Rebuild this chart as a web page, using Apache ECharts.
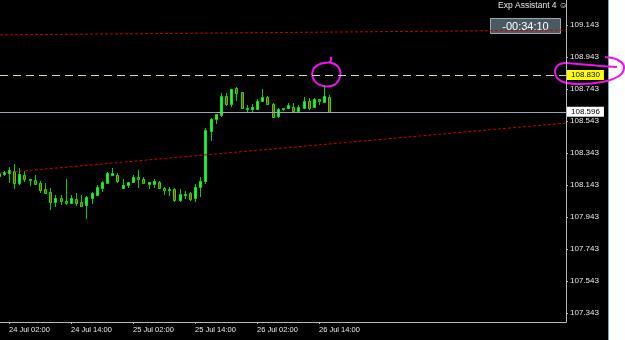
<!DOCTYPE html>
<html>
<head>
<meta charset="utf-8">
<title>USDJPY H1</title>
<script src="https://cdn.jsdelivr.net/npm/echarts@6.0.0/dist/echarts.min.js"></script>
<style>
  html, body { margin: 0; padding: 0; background: #000; }
  #main-chart { width: 625px; height: 340px; }
</style>
</head>
<body>
<div id="main-chart"></div>
<script>
// hourly candles, index = hours since 24 Jul 00:00
var openPrices = [108.202, 108.212, 108.216, 108.232, 108.157, 108.205, 108.174, 108.172, 108.155, 108.116,
    108.099, 108.035, 108.062, 108.045, 108.028, 108.057, 108.038, 108.018, 108.060, 108.080,
    108.122, 108.157, 108.207, 108.205, 108.126, 108.143, 108.163, 108.191, 108.180, 108.151,
    108.149, 108.163, 108.126, 108.112, 108.116, 108.049, 108.078, 108.091, 108.060, 108.132,
    108.168, 108.482, 108.555, 108.580, 108.701, 108.649, 108.747, 108.722, 108.615, 108.620,
    108.618, 108.670, 108.695, 108.649, 108.574, 108.618, 108.622, 108.632, 108.607, 108.622,
    108.670, 108.628, 108.680, 108.663, 108.695];
var highPrices = [108.224, 108.230, 108.255, 108.274, 108.249, 108.230, 108.182, 108.205, 108.168, 108.155,
    108.124, 108.078, 108.080, 108.180, 108.078, 108.091, 108.078, 108.076, 108.101, 108.143,
    108.170, 108.226, 108.247, 108.220, 108.180, 108.163, 108.205, 108.237, 108.195, 108.160,
    108.178, 108.168, 108.132, 108.128, 108.122, 108.116, 108.105, 108.101, 108.149, 108.195,
    108.497, 108.560, 108.588, 108.716, 108.716, 108.743, 108.753, 108.726, 108.640, 108.649,
    108.680, 108.741, 108.701, 108.653, 108.622, 108.626, 108.653, 108.653, 108.643, 108.691,
    108.685, 108.685, 108.680, 108.768, 108.705];
var lowPrices = [108.193, 108.199, 108.155, 108.118, 108.143, 108.162, 108.138, 108.147, 108.095, 108.091,
    107.987, 108.005, 108.018, 108.018, 108.024, 108.012, 108.007, 107.930, 108.024, 108.076,
    108.101, 108.153, 108.201, 108.157, 108.116, 108.122, 108.160, 108.122, 108.147, 108.116,
    108.126, 108.118, 108.080, 108.074, 108.038, 108.038, 108.055, 108.045, 108.038, 108.066,
    108.149, 108.420, 108.524, 108.566, 108.638, 108.632, 108.670, 108.618, 108.591, 108.591,
    108.616, 108.670, 108.643, 108.560, 108.563, 108.607, 108.616, 108.601, 108.601, 108.616,
    108.612, 108.622, 108.643, 108.657, 108.591];
var closePrices = [108.215, 108.224, 108.237, 108.153, 108.212, 108.180, 108.182, 108.151, 108.112, 108.095,
    108.035, 108.063, 108.045, 108.028, 108.063, 108.028, 108.013, 108.066, 108.091, 108.132,
    108.160, 108.216, 108.216, 108.170, 108.143, 108.163, 108.191, 108.178, 108.153, 108.160,
    108.170, 108.122, 108.112, 108.120, 108.049, 108.085, 108.087, 108.055, 108.132, 108.170,
    108.487, 108.553, 108.588, 108.701, 108.647, 108.743, 108.720, 108.622, 108.622, 108.628,
    108.670, 108.691, 108.647, 108.566, 108.618, 108.626, 108.643, 108.607, 108.628, 108.670,
    108.622, 108.680, 108.670, 108.701, 108.597];

// axis ticks
var timeTicks = [2, 14, 26, 38, 50, 62];
var timeLabels = ['24 Jul 02:00', '24 Jul 14:00', '25 Jul 02:00', '25 Jul 14:00', '26 Jul 02:00', '26 Jul 14:00'];
var priceTicks = [107.343, 107.543, 107.743, 107.943, 108.143, 108.343, 108.543, 108.743, 108.943, 109.143];

// price levels and trend lines [hour, price]
var bidPrice = 108.596;
var alertPrice = 108.830;
var upperTrend = [[0.26, 109.081], [109.8, 109.111]];
var lowerTrend = [[0.26, 108.218], [109.8, 108.530]];

var timerText = '-00:34:10';
var expertText = 'Exp Assistant 4 \u263A';

var labelFont = 'Tahoma, "Liberation Sans", sans-serif';

var candleData = openPrices.map(function (o, i) {
    return [i, o, closePrices[i], lowPrices[i], highPrices[i]];
});

function renderCandle(params, api) {
    var h = api.value(0);
    var o = api.value(1), c = api.value(2), lo = api.value(3), hi = api.value(4);
    var pO = api.coord([h, o]);
    var pC = api.coord([h, c]);
    var pL = api.coord([h, lo]);
    var pH = api.coord([h, hi]);
    var cx = Math.round(pO[0]) + 0.5;
    var top = Math.round(Math.min(pO[1], pC[1]));
    var bot = Math.round(Math.max(pO[1], pC[1]));
    var bull = c >= o;
    return {
        type: 'group',
        children: [
            {
                type: 'line',
                shape: { x1: cx, y1: Math.round(pH[1]), x2: cx, y2: Math.round(pL[1]) },
                style: { stroke: '#00d000', lineWidth: 1 }
            },
            {
                type: 'rect',
                shape: { x: cx - 1, y: top + 0.5, width: 2, height: Math.max(bot - top, 1) },
                style: { fill: bull ? '#45dd70' : '#ee1010', stroke: '#00ee00', lineWidth: 1 }
            }
        ]
    };
}

// label for a horizontal price level, sitting on the price scale
function levelLabel(price, bg) {
    return {
        position: 'end',
        distance: 1,
        formatter: function () { return price.toFixed(3); },
        backgroundColor: bg,
        color: '#000',
        fontSize: 8,
        fontFamily: labelFont,
        padding: [1, 4, 1, 4]
    };
}

var chartDom = document.getElementById('main-chart');
var myChart = echarts.init(chartDom);

var option = {
    backgroundColor: '#000000',
    animation: false,
    grid: { left: 0, right: 59, top: 0, bottom: 18 },
    xAxis: {
        type: 'value',
        min: 0.26,
        max: 109.8,
        axisLine: { show: true, lineStyle: { color: '#b8b8b8', width: 1 } },
        axisTick: { show: true, customValues: timeTicks, length: 2, lineStyle: { color: '#b8b8b8' } },
        axisLabel: {
            customValues: timeTicks,
            formatter: function (v) { return timeLabels[timeTicks.indexOf(v)] || ''; },
            align: 'left',
            color: '#e8e8e8',
            fontSize: 7.5,
            fontFamily: labelFont,
            margin: 4
        },
        splitLine: { show: false }
    },
    yAxis: {
        type: 'value',
        position: 'right',
        min: 107.287,
        max: 109.299,
        axisLine: { show: true, lineStyle: { color: '#b8b8b8', width: 1 } },
        axisTick: { show: true, customValues: priceTicks, length: 2, lineStyle: { color: '#b8b8b8' } },
        axisLabel: {
            customValues: priceTicks,
            formatter: function (v) { return v.toFixed(3); },
            color: '#e8e8e8',
            fontSize: 8,
            fontFamily: labelFont,
            margin: 4
        },
        splitLine: { show: false }
    },
    series: [
        {
            name: 'trend upper',
            type: 'line',
            data: upperTrend,
            symbol: 'none',
            silent: true,
            lineStyle: { color: '#c80000', width: 1, type: [3, 2] }
        },
        {
            name: 'trend lower',
            type: 'line',
            data: lowerTrend,
            symbol: 'none',
            silent: true,
            lineStyle: { color: '#c80000', width: 1, type: [3, 2] }
        },
        {
            name: 'USDJPY',
            type: 'custom',
            renderItem: renderCandle,
            data: candleData,
            clip: true,
            encode: { x: 0, y: [1, 2, 3, 4] },
            markLine: {
                silent: true,
                symbol: 'none',
                data: [
                    {
                        yAxis: alertPrice,
                        lineStyle: { color: '#d6d6b0', width: 1, type: [8, 5] },
                        label: levelLabel(alertPrice, '#ffff00')
                    },
                    {
                        yAxis: bidPrice,
                        lineStyle: { color: '#9aa6b6', width: 1, type: 'solid' },
                        label: levelLabel(bidPrice, '#ffffff')
                    }
                ]
            }
        }
    ],
    graphic: [
        // window border on the right
        { type: 'rect', shape: { x: 608, y: 0, width: 17, height: 340 }, style: { fill: '#ffffff' }, silent: true },
        { type: 'line', shape: { x1: 608.5, y1: 0, x2: 608.5, y2: 340 }, style: { stroke: '#7aa0d0', lineWidth: 1 }, silent: true },
        // expert name
        {
            type: 'text', left: 498, top: 1,
            style: { text: expertText, fill: '#e6e6e6', fontSize: 8.5, fontFamily: labelFont }
        },
        // bar timer
        {
            type: 'rect', shape: { x: 490.5, y: 18.5, width: 70, height: 15 },
            style: { fill: '#4a5a63', stroke: '#9eacb2', lineWidth: 1 }
        },
        {
            type: 'text', x: 525.5, y: 26.5,
            style: { text: timerText, fill: '#ffffff', fontSize: 11, fontFamily: labelFont, align: 'center', verticalAlign: 'middle' }
        },
        // hand drawn marks
        {
            type: 'polyline', silent: true,
            shape: { points: [[331, 57], [330, 62], [320, 64], [313, 70], [314, 80], [323, 86], [334, 85], [340, 77], [339, 68], [332, 63], [324, 63]], smooth: 0.4 },
            style: { stroke: '#f010f0', lineWidth: 2, fill: null }
        },
        {
            type: 'polyline', silent: true,
            shape: { points: [[605, 57], [618, 60], [624, 67], [619, 76], [602, 82], [578, 84], [561, 81], [555, 72], [560, 64], [578, 64], [600, 66], [617, 67]], smooth: 0.4 },
            style: { stroke: '#f010f0', lineWidth: 2, fill: null }
        }
    ]
};

myChart.setOption(option);
</script>
</body>
</html>
